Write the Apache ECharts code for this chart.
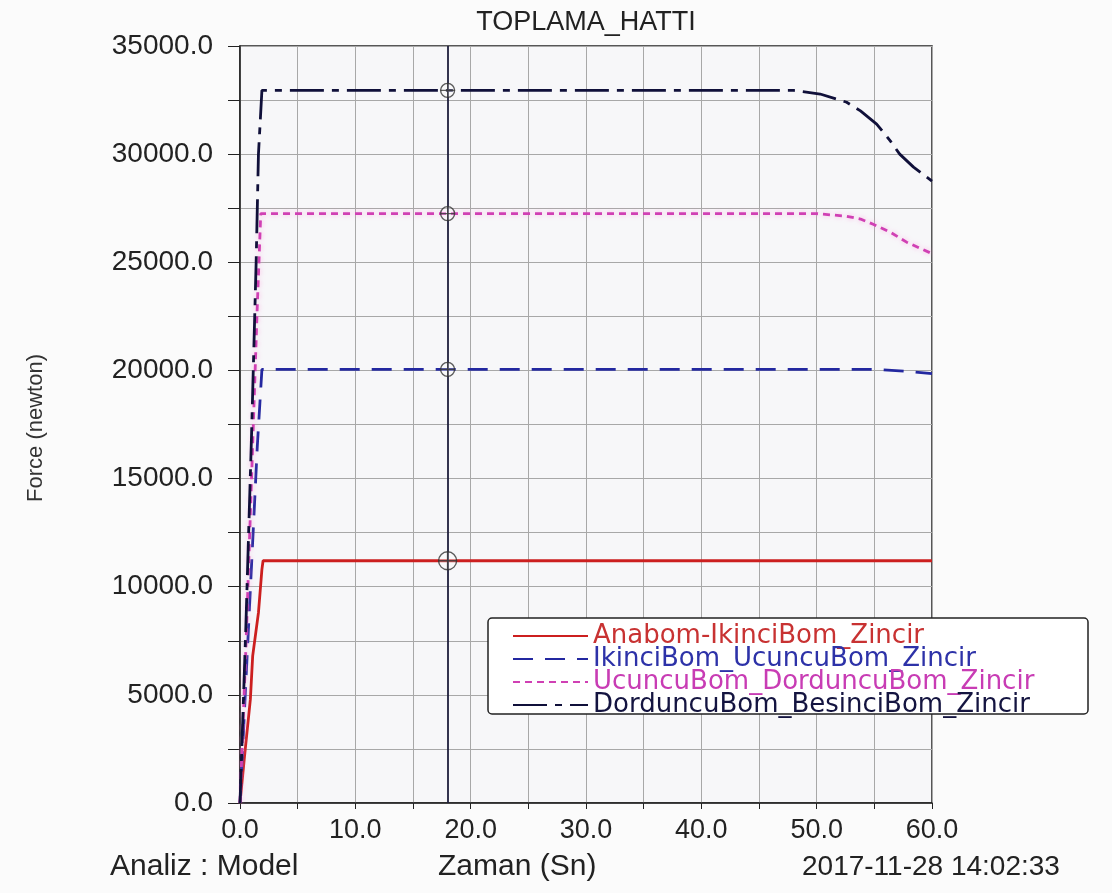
<!DOCTYPE html>
<html>
<head>
<meta charset="utf-8">
<script src="https://cdn.jsdelivr.net/npm/echarts@6/dist/echarts.min.js"></script>
<style>
  html, body { margin: 0; padding: 0; background: #fbfbfb; }
  #chart { width: 1112px; height: 893px; }
</style>
</head>
<body>
<div id="chart"></div>
<script>
// ---- data ----
const seriesNames = [
  'Anabom-IkinciBom_Zincir',
  'IkinciBom_UcuncuBom_Zincir',
  'UcuncuBom_DorduncuBom_Zincir',
  'DorduncuBom_BesinciBom_Zincir'
];
const redT   = [0, 0.4, 0.9, 1.1, 1.6, 1.9, 2.0, 60];
const redV   = [0, 2200, 4800, 6800, 8800, 10800, 11200, 11200];
const blueT  = [0, 0.5, 1.0, 1.5, 1.9, 18, 55, 58, 60];
const blueV  = [0, 5500, 11000, 16500, 20050, 20050, 20050, 19950, 19850];
const pinkT  = [0, 0.5, 1.0, 1.5, 1.8, 50, 52.6, 53.8, 54.9, 56.4, 57.8, 60];
const pinkV  = [0, 7000, 15000, 23000, 27250, 27250, 27130, 27000, 26760, 26390, 25930, 25400];
const navyT  = [0, 0.5, 1.0, 1.4, 1.6, 1.9, 48, 50.3, 52.6, 53.8, 55.2, 56.4, 57.2, 58.4, 60];
const navyV  = [0, 8000, 17000, 25000, 30000, 32950, 32950, 32780, 32400, 32000, 31390, 30600, 30000, 29400, 28750];
const cursorT = 18.0;
const cursorV = [11200, 20050, 27250, 32950];
const xTicks = [0, 10, 20, 30, 40, 50, 60];
const yTicks = [0, 5000, 10000, 15000, 20000, 25000, 30000, 35000];

const zip = (t, v) => t.map((x, i) => [x, v[i]]);
const FONT = "'Liberation Sans', Arial, sans-serif";
const LEGEND_FONT = "'DejaVu Sans', 'Liberation Sans', sans-serif";
const colors = ['#cc1f1f', '#2328a0', '#d040b4', '#10103a'];
const textColors = ['#c83232', '#2d32a8', '#c83cb4', '#141440'];
const dashes = ['solid', [20, 12], [7, 5], [34, 8, 7, 8]];
const datas = [zip(redT, redV), zip(blueT, blueV), zip(pinkT, pinkV), zip(navyT, navyV)];

const lineSeries = seriesNames.map((n, i) => ({
  name: n,
  type: 'line',
  data: datas[i],
  symbol: 'none',
  smooth: false,
  z: 3 + i,
  lineStyle: {
    color: colors[i], width: 2.8, type: dashes[i],
    shadowColor: i === 2 ? 'rgba(255,150,220,0.7)' : 'transparent',
    shadowBlur: i === 2 ? 5 : 0
  },
  itemStyle: { color: colors[i] }
}));

lineSeries[0].markLine = {
  silent: true,
  symbol: 'none',
  label: { show: false },
  lineStyle: { color: '#1e1e3c', width: 1.8, type: 'solid' },
  data: [{ xAxis: cursorT }]
};

const markerData = cursorV.map(v => [cursorT, v]);

const option = {
  backgroundColor: '#fbfbfb',
  animation: false,
  grid: {
    left: 240, top: 46, right: 180, bottom: 90,
    show: true, borderColor: '#222', borderWidth: 1.5, backgroundColor: '#f7f7f9'
  },
  xAxis: {
    type: 'value', min: 0, max: 60, interval: 5,
    axisLine: { show: true, lineStyle: { color: '#222', width: 1.5 } },
    axisTick: { show: true, length: 6, lineStyle: { color: '#222' } },
    splitLine: { show: true, lineStyle: { color: '#a8a8a8', width: 1 } },
    axisLabel: {
      margin: 14, fontSize: 27, color: '#222', fontFamily: FONT,
      formatter: v => xTicks.includes(v) ? v.toFixed(1) : ''
    }
  },
  yAxis: {
    type: 'value', min: 0, max: 35000, interval: 2500,
    axisLine: { show: true, lineStyle: { color: '#222', width: 1.5 } },
    axisTick: { show: true, length: 12, lineStyle: { color: '#222' } },
    splitLine: { show: true, lineStyle: { color: '#a8a8a8', width: 1 } },
    axisLabel: {
      margin: 27, fontSize: 28, color: '#222', fontFamily: FONT,
      formatter: v => yTicks.includes(v) ? v.toFixed(1) : ''
    }
  },
  legend: {
    orient: 'vertical',
    left: 488, top: 618,
    z: 8,
    padding: [5, 14, 0, 24],
    itemWidth: 75, itemHeight: 14, itemGap: -3,
    itemStyle: { color: 'transparent', borderColor: 'transparent', borderWidth: 0, opacity: 0 },
    textStyle: { fontSize: 26, fontFamily: LEGEND_FONT },
    data: seriesNames.map((n, i) => ({ name: n, textStyle: { color: textColors[i] } }))
  },
  graphic: [
    { type: 'rect', z: 5, shape: { x: 488, y: 618, width: 600, height: 96, r: 4 },
      style: { fill: '#ffffff', stroke: '#222', lineWidth: 1.5 } },
    { type: 'text', x: 586, y: 23,
      style: { text: 'TOPLAMA_HATTI', fontSize: 27, fill: '#222', fontFamily: FONT, align: 'center', verticalAlign: 'middle' } },
    { type: 'text', x: 36, y: 428, rotation: Math.PI / 2,
      style: { text: 'Force (newton)', fontSize: 22, fill: '#333', fontFamily: FONT, align: 'center', verticalAlign: 'middle' } },
    { type: 'text', x: 110, y: 867,
      style: { text: 'Analiz : Model', fontSize: 30, fill: '#222', fontFamily: FONT, verticalAlign: 'middle' } },
    { type: 'text', x: 438, y: 867,
      style: { text: 'Zaman (Sn)', fontSize: 30, fill: '#222', fontFamily: FONT, verticalAlign: 'middle' } },
    { type: 'text', x: 802, y: 867,
      style: { text: '2017-11-28 14:02:33', fontSize: 28, fill: '#222', fontFamily: FONT, verticalAlign: 'middle' } }
  ],
  series: lineSeries.concat([
    {
      type: 'scatter', data: markerData, z: 10, silent: true,
      symbol: 'circle',
      symbolSize: (val, p) => p.dataIndex === 0 ? 18 : 14,
      itemStyle: { color: 'rgba(255,255,255,0.35)', borderColor: '#333', borderWidth: 1.4 }
    },
    {
      type: 'scatter', data: markerData, z: 11, silent: true,
      symbol: 'path://M4.6,0h0.8v10h-0.8z M0,4.6h10v0.8h-10z',
      symbolSize: (val, p) => p.dataIndex === 0 ? 18 : 14,
      itemStyle: { color: '#333' }
    }
  ])
};

const chart = echarts.init(document.getElementById('chart'), null, { renderer: 'canvas' });
chart.setOption(option);
</script>
</body>
</html>
